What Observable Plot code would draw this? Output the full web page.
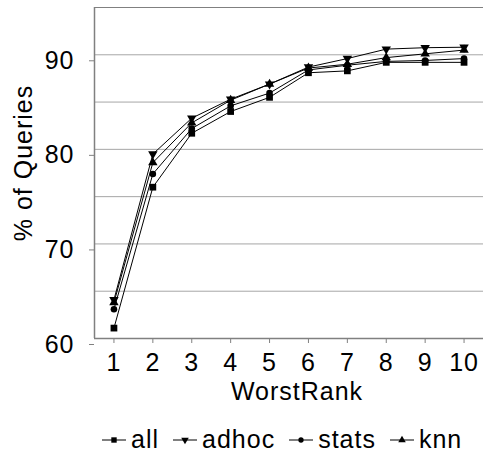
<!DOCTYPE html>
<html>
<head>
<meta charset="utf-8">
<script src="https://cdn.jsdelivr.net/npm/d3@7"></script>
<script src="https://cdn.jsdelivr.net/npm/@observablehq/plot@0.6"></script>
<style>
  html, body { margin: 0; padding: 0; background: #fff; }
  body { width: 484px; height: 463px; overflow: hidden; font-family: "Liberation Sans", Arial, sans-serif; }
  #chart svg { display: block; }
  #legend { display: flex; align-items: center; height: 47px; padding-top: 16px; padding-left: 102px; font-size: 25px; letter-spacing: 1px; color: #000; }
  .item { display: flex; align-items: center; margin-right: 14px; }
  .item svg { margin-right: 5px; }
</style>
</head>
<body>
<div id="chart"></div>
<div id="legend"></div>
<script>
const worstRank = [1, 2, 3, 4, 5, 6, 7, 8, 9, 10];
const allVals   = [61.1, 76.0, 81.7, 84.0, 85.5, 88.1, 88.3, 89.2, 89.2, 89.2];
const adhocVals = [64.1, 79.5, 83.3, 85.3, 86.9, 88.7, 89.6, 90.6, 90.75, 90.8];
const statsVals = [63.1, 77.4, 82.2, 84.6, 85.95, 88.4, 88.9, 89.3, 89.4, 89.6];
const knnVals   = [63.8, 78.6, 82.8, 85.2, 86.9, 88.6, 89.0, 89.7, 90.1, 90.5];
const seriesNames = ["all", "adhoc", "stats", "knn"];
const yTickLabels = [60, 70, 80, 90];
const yGrid = [60, 65, 70, 75, 80, 85, 90];

const seriesVals = {all: allVals, adhoc: adhocVals, stats: statsVals, knn: knnVals};
const symbols = {all: "square", adhoc: "triangle", stats: "circle", knn: "triangle"};
const rotations = {all: 0, adhoc: 180, stats: 0, knn: 0};
const radii = {all: 3.8, adhoc: 3.5, stats: 3.3, knn: 3.5};

const rows = seriesNames.flatMap(s => worstRank.map((x, i) => ({series: s, x, y: seriesVals[s][i]})));

const marks = [
  Plot.ruleY(yGrid, {stroke: "#a6a6a6", strokeWidth: 1}),
  Plot.ruleY([95], {stroke: "#808080", strokeWidth: 1}),
  Plot.ruleY([60], {stroke: "#808080", strokeWidth: 1.5}),
  Plot.ruleX([0.5], {stroke: "#808080", strokeWidth: 1.5}),
  Plot.axisY({ticks: yTickLabels, tickSize: 5, tickPadding: 15, dy: 6, stroke: "#808080", label: null, fontSize: 25, tickFormat: d => String(d)}),
  Plot.axisX({ticks: worstRank, tickSize: 5, tickPadding: 10, stroke: "#808080", label: null, fontSize: 25, tickFormat: d => String(d)}),
  Plot.text(["% of Queries"], {frameAnchor: "left", textAnchor: "middle", lineAnchor: "middle", rotate: -90, dx: -71, dy: -10, fontSize: 25, fill: "#000"}),
  Plot.text(["WorstRank"], {frameAnchor: "bottom", textAnchor: "middle", lineAnchor: "middle", dy: 53, dx: 8, fontSize: 25, fill: "#000"})
];
for (const s of seriesNames) {
  const data = rows.filter(d => d.series === s);
  marks.push(Plot.line(data, {x: "x", y: "y", stroke: "#000", strokeWidth: 1}));
  marks.push(Plot.dot(data, {x: "x", y: "y", symbol: symbols[s], r: radii[s], fill: "#000", stroke: "none", rotate: rotations[s]}));
}

const chart = Plot.plot({
  width: 484,
  height: 400,
  marginLeft: 94,
  marginRight: 1,
  marginTop: 7,
  marginBottom: 62,
  x: {domain: [0.5, 10.5]},
  y: {domain: [60, 95]},
  style: {fontFamily: "'Liberation Sans', Arial, sans-serif", fontSize: "25px", letterSpacing: "1px", color: "#000", background: "#fff", overflow: "visible"},
  marks
});
document.getElementById("chart").appendChild(chart);

// legend
const legend = d3.select("#legend");
for (const s of seriesNames) {
  const item = legend.append("div").attr("class", "item");
  const sv = item.append("svg").attr("width", 24).attr("height", 12);
  sv.append("line").attr("x1", 0).attr("x2", 24).attr("y1", 6).attr("y2", 6).attr("stroke", "#000").attr("stroke-width", 1);
  const sym = {square: d3.symbolSquare, triangle: d3.symbolTriangle, circle: d3.symbolCircle}[symbols[s]];
  const r = radii[s] * 0.8;
  sv.append("path")
    .attr("d", d3.symbol(sym, r * r * Math.PI)())
    .attr("transform", `translate(12,6) rotate(${rotations[s]})`)
    .attr("fill", "#000");
  item.append("span").text(s);
}
</script>
</body>
</html>
